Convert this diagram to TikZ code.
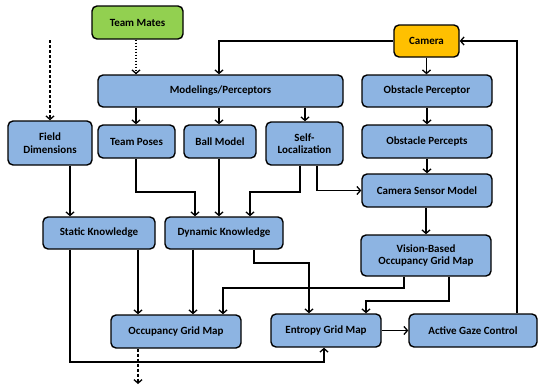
\documentclass[tikz,border=0pt]{standalone}
\usepackage{fontspec}
\setmainfont{Carlito}
\usetikzlibrary{arrows.meta}
\definecolor{boxblue}{HTML}{8DB4E2}
\definecolor{boxgreen}{HTML}{92D050}
\definecolor{boxorange}{HTML}{FFC000}
\tikzset{
  box/.style={draw=black, line width=1.4pt, rounded corners=5pt, fill=boxblue,
    align=center, inner sep=1pt, font=\bfseries\fontsize{11}{12.5}\selectfont},
  arr/.style={line width=1.2pt, -{Straight Barb[length=3.5pt,width=8pt,line width=1.3pt]}},
  ln/.style={line width=1.2pt},
}
\begin{document}
\begin{tikzpicture}[x=1pt,y=-1pt]
\useasboundingbox (0,0) rectangle (538,388);
% nodes
\node[box, fill=boxgreen, minimum width=91pt, minimum height=33pt] (tm) at (137.5,22.5) {Team Mates};
\node[box, fill=boxorange, minimum width=65pt, minimum height=32pt] (cam) at (426.5,41) {Camera};
\node[box, minimum width=245pt, minimum height=32pt] (mod) at (220.5,91) {Modelings/Perceptors};
\node[box, minimum width=130pt, minimum height=32pt] (op) at (427,91) {Obstacle Perceptor};
\node[box, minimum width=84pt, minimum height=44pt] (fd) at (50,143) {Field\\Dimensions};
\node[box, minimum width=77pt, minimum height=33pt] (tp) at (136.5,141.5) {Team Poses};
\node[box, minimum width=72pt, minimum height=33pt] (bm) at (220,141.5) {Ball Model};
\node[box, minimum width=77pt, minimum height=43pt] (sl) at (304.5,143.5) {Self-\\Localization};
\node[box, minimum width=130pt, minimum height=33pt] (ops) at (427,141.5) {Obstacle Percepts};
\node[box, minimum width=130pt, minimum height=33pt] (csm) at (427,190.5) {Camera Sensor Model};
\node[box, minimum width=112pt, minimum height=32pt] (sk) at (99,233) {Static Knowledge};
\node[box, minimum width=118pt, minimum height=32pt] (dk) at (224,233) {Dynamic Knowledge};
\node[box, minimum width=130pt, minimum height=41pt] (vb) at (426,255.5) {Vision-Based\\Occupancy Grid Map};
\node[box, minimum width=130pt, minimum height=33pt] (ogm) at (176,331.5) {Occupancy Grid Map};
\node[box, minimum width=110pt, minimum height=33pt] (egm) at (326,330.5) {Entropy Grid Map};
\node[box, minimum width=128pt, minimum height=33pt] (agc) at (473,330.5) {Active Gaze Control};
\coordinate (top) at (50,40);
\coordinate (bot) at (138,384);
% connectors
\draw[arr, dash pattern=on 1.5pt off 1.5pt] (tm.south -| 136,0) -- (mod.north -| 136,0);
\draw[arr, dash pattern=on 3pt off 2pt] (top) -- (fd.north -| top);
\draw[arr] (cam.west) -| (mod.north -| 219,0);
\draw[arr] (cam.south) -- (op.north -| cam.south);
\draw[arr] (mod.south -| 136,0) -- (tp.north -| 136,0);
\draw[arr] (mod.south -| 219,0) -- (bm.north -| 219,0);
\draw[arr] (mod.south -| 305,0) -- (sl.north -| 305,0);
\draw[arr] (op.south -| 427,0) -- (ops.north -| 427,0);
\draw[arr] (ops.south -| 427,0) -- (csm.north -| 427,0);
\draw[arr] (fd.south -| 70,0) -- (sk.north -| 70,0);
\draw[arr] (tp.south -| 136,0) |- (195,192) -- (dk.north -| 195,0);
\draw[arr] (bm.south -| 219,0) -- (dk.north -| 219,0);
\draw[arr] (sl.south -| 300,0) |- (250,192) -- (dk.north -| 250,0);
\draw[arr] (sl.south -| 317,0) |- (csm.west);
\draw[arr] (csm.south -| 426,0) -- (vb.north -| 426,0);
\draw[arr] (sk.south -| 70,0) |- (324,362) -- (egm.south -| 324,0);
\draw[arr] (sk.south -| 138,0) -- (ogm.north -| 138,0);
\draw[arr] (dk.south -| 193,0) -- (ogm.north -| 193,0);
\draw[arr] (dk.south -| 254,0) |- (309,263) -- (egm.north -| 309,0);
\draw[arr] (vb.south -| 404,0) |- (223,288) -- (ogm.north -| 223,0);
\draw[arr] (vb.south -| 449,0) |- (366,301) -- (egm.north -| 366,0);
\draw[arr] (egm.east) -- (agc.west);
\draw[arr] (agc.north -| 517,0) |- (cam.east);
\draw[arr, dash pattern=on 3pt off 2pt] (ogm.south -| bot) -- (bot);
\end{tikzpicture}
\end{document}
